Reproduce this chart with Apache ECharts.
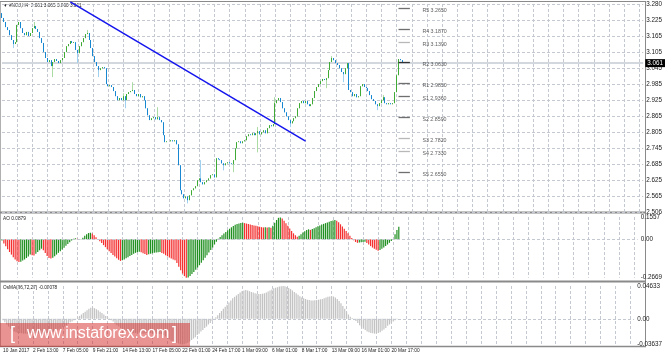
<!DOCTYPE html>
<html><head><meta charset="utf-8">
<script src="https://cdn.jsdelivr.net/npm/echarts@6/dist/echarts.min.js"></script>
<style>html,body{margin:0;padding:0;background:#fff}#c{width:665px;height:357px}</style>
</head><body><div id="c"></div>
<script>
// ---------- data ----------
const dateLabels = ['10 Jan 2017','2 Feb 13:00','7 Feb 05:00','9 Feb 21:00','14 Feb 13:00','17 Feb 05:00','22 Feb 01:00','24 Feb 17:00','1 Mar 09:00','6 Mar 01:00','8 Mar 17:00','13 Mar 09:00','16 Mar 01:00','20 Mar 17:00'];
const priceLabels = ['2.506','2.565','2.625','2.685','2.745','2.805','2.865','2.925','2.985','3.045','3.105','3.165','3.225','3.280'];
const priceMin = 2.506, priceMax = 3.280;
const firstOpen = 3.246;
const closes = [
3.228,3.213,3.194,3.183,3.164,3.146,3.131,3.138,3.202,3.213,
3.190,3.172,3.164,3.176,3.161,3.172,3.190,3.198,3.187,3.176,
3.153,3.135,3.101,3.079,3.064,3.071,3.049,3.064,3.075,3.068,
3.060,3.071,3.079,3.101,3.123,3.131,3.142,3.135,3.138,3.109,
3.097,3.123,3.138,3.153,3.168,3.172,3.146,3.116,3.086,3.064,
3.049,3.034,3.041,3.045,3.041,2.982,2.974,2.978,2.971,2.956,
2.937,2.922,2.930,2.922,2.937,2.922,2.945,2.952,2.956,2.960,
2.945,2.937,2.945,2.933,2.937,2.922,2.892,2.866,2.848,2.855,
2.859,2.851,2.859,2.848,2.840,2.792,2.766,2.769,2.769,2.773,
2.769,2.773,2.758,2.680,2.587,2.572,2.557,2.564,2.550,2.568,
2.587,2.594,2.602,2.624,2.631,2.617,2.609,2.617,2.624,2.631,
2.643,2.646,2.635,2.706,2.702,2.699,2.687,2.680,2.687,2.691,
2.687,2.684,2.699,2.743,2.766,2.769,2.762,2.769,2.773,2.788,
2.795,2.792,2.799,2.792,2.799,2.807,2.795,2.803,2.810,2.799,
2.818,2.829,2.825,2.833,2.911,2.922,2.930,2.915,2.892,2.877,
2.862,2.848,2.836,2.844,2.855,2.862,2.892,2.911,2.919,2.911,
2.919,2.907,2.900,2.907,2.930,2.956,2.971,2.982,2.993,3.001,
2.997,3.004,3.034,3.064,3.079,3.071,3.060,3.053,3.041,3.027,
3.019,3.041,3.060,2.960,2.952,2.937,2.945,2.933,2.937,2.974,
2.982,2.971,2.967,2.956,2.941,2.926,2.919,2.907,2.900,2.911,
2.922,2.933,2.911,2.907,2.911,2.907,2.911,2.952,3.015,3.075,
3.071,3.061];
// [bar index, low, high] of the visible shadows
const wicks = [[6,3.116,3.138],[17,3.190,3.213],[27,3.008,3.064],[40,3.060,3.109],[45,3.168,3.183],[51,3.008,3.049],[64,2.930,2.948],[65,2.892,2.937],[69,2.956,2.989],[82,2.851,2.896],[98,2.538,2.564],[105,2.617,2.699],[117,2.661,2.687],[122,2.654,2.699],[135,2.728,2.822],[144,2.833,2.933],[152,2.822,2.848],[171,2.967,3.004],[174,3.064,3.086],[180,2.989,3.027],[198,2.885,2.907],[201,2.922,2.941]];
const aoValues = [
-0.008,-0.028,-0.048,-0.068,-0.088,-0.106,-0.124,-0.14,-0.152,-0.158,
-0.155,-0.148,-0.14,-0.13,-0.12,-0.105,-0.11,-0.112,
-0.1,-0.088,-0.075,-0.065,
-0.075,-0.095,-0.115,-0.13,-0.134,
-0.128,-0.118,-0.106,-0.094,-0.082,-0.07,-0.058,-0.045,-0.032,-0.02,-0.008,
0.004,0.007,0.004,0.002,0.003,0.012,0.025,0.036,0.044,0.046,0.04,0.028,0.014,0.0,
-0.013,-0.026,-0.04,-0.054,-0.068,-0.082,-0.095,-0.108,-0.12,-0.132,-0.142,-0.15,
-0.146,-0.14,-0.132,-0.124,-0.116,-0.108,-0.1,-0.094,-0.089,-0.086,
-0.09,-0.096,-0.102,-0.108,
-0.104,-0.1,-0.097,-0.094,-0.092,-0.09,-0.088,
-0.095,-0.1,-0.11,-0.118,-0.126,-0.134,-0.14,-0.146,
-0.165,-0.19,-0.215,-0.238,-0.256,-0.27,
-0.266,-0.255,-0.242,-0.228,-0.212,-0.196,-0.18,-0.163,-0.146,-0.128,-0.11,-0.092,-0.074,-0.056,-0.036,-0.016,0.004,
0.016,0.028,0.04,0.052,0.063,0.074,0.084,0.093,0.101,0.107,0.111,0.114,0.115,
0.113,0.11,0.107,0.103,0.1,0.097,0.094,0.091,0.088,0.085,0.083,
0.085,0.082,0.084,0.081,
0.095,0.115,0.135,0.15,0.153,
0.145,0.13,0.112,0.094,0.076,0.058,0.042,0.028,0.018,
0.026,0.036,0.047,0.057,0.065,0.07,
0.066,
0.072,0.078,0.085,0.091,0.097,0.103,0.108,0.113,0.118,0.123,0.128,0.132,0.134,
0.13,0.12,0.105,0.09,0.074,0.058,0.042,0.026,0.01,
-0.006,-0.018,-0.024,
-0.022,-0.02,-0.018,-0.017,
-0.025,-0.036,-0.047,-0.057,-0.066,-0.073,-0.079,
-0.074,-0.066,-0.057,-0.047,-0.036,-0.024,-0.012,-0.001,
0.035,0.065,0.0879];
const osmaValues = [
-0.002,-0.005,-0.008,-0.011,-0.014,-0.016,-0.018,-0.019,-0.02,
-0.02,-0.0205,-0.021,-0.021,-0.021,-0.0205,-0.02,-0.02,-0.02,-0.0205,-0.021,-0.021,-0.021,-0.0205,-0.02,-0.02,-0.0195,
-0.019,-0.018,-0.017,-0.016,-0.015,-0.014,-0.012,-0.011,-0.009,-0.007,-0.005,-0.004,-0.002,-0.0005,
0.002,0.004,0.006,0.008,0.01,0.012,0.014,0.0155,0.0156,0.015,0.0135,0.012,0.01,0.008,0.006,0.004,0.002,0.0005,
-0.002,-0.004,-0.007,-0.009,-0.011,-0.013,-0.015,-0.016,-0.017,-0.018,-0.019,-0.0195,-0.02,-0.02,
-0.02,-0.0205,-0.021,-0.021,-0.0205,-0.02,-0.02,-0.02,-0.0205,-0.021,-0.021,-0.021,-0.0215,-0.022,
-0.023,-0.025,-0.027,-0.029,-0.031,-0.032,-0.033,-0.034,-0.035,-0.036,-0.0364,-0.036,-0.035,
-0.034,-0.032,-0.03,-0.028,-0.026,-0.023,-0.021,-0.018,-0.016,-0.013,-0.011,-0.008,-0.006,-0.003,-0.001,
0.002,0.005,0.008,0.011,0.014,0.017,0.02,0.023,0.026,0.029,0.031,0.033,0.035,0.037,0.039,
0.04,0.0405,0.04,0.039,0.038,0.037,0.036,0.0355,0.035,0.035,
0.0355,0.036,0.037,0.0385,0.04,0.0415,0.043,0.044,0.0447,0.0455,0.046,0.0463,
0.046,0.045,0.0435,0.042,0.04,0.038,0.036,0.034,0.032,0.03,0.029,0.028,0.027,
0.0265,0.026,0.026,0.0262,0.0265,0.027,0.0275,0.028,0.029,0.03,0.031,0.0315,0.0318,0.0315,
0.03,0.028,0.025,0.022,0.018,0.014,0.01,0.006,0.003,0.001,
-0.001,-0.003,-0.006,-0.009,-0.012,-0.014,-0.016,-0.018,-0.019,-0.02,-0.0205,-0.021,
-0.0205,-0.02,-0.019,-0.017,-0.015,-0.013,-0.01,-0.008,-0.006,-0.004,-0.002,-0.00078];
const aoAxis = [-0.2669, 0, 0.1557];
const aoAxisLabels = ['-0.2669','0.00','0.1557'];
const osmaAxis = [-0.03637, 0, 0.04633];
const osmaAxisLabels = ['-0.03637','0.00','0.04633'];
const pivotNames = ['R5','R4','R3','R2','R1','S1','S2','S3','S4','S5'];
const pivotValues = [3.2650,3.1870,3.1390,3.0630,2.9850,2.9360,2.8590,2.7820,2.7330,2.6550];
const pivotLight = [false,false,true,false,false,false,false,true,true,false];
const trendLine = [[36,3.288],[160,2.770]];
const bidPrice = 3.061;
const titleText = '\u25BC #NGJ,H4  3.061 3.065 3.060 3.061';
const aoTitle = 'AO 0.0879';
const osmaTitle = 'OsMA(36,72,27) -0.00078';
const SLOTS = 339;

// ---------- build ----------
const slots = Array.from({length: SLOTS}, (_, i) => String(i));
const wickMap = {};
wicks.forEach(w => wickMap[w[0]] = w);
const fullCandles = [], bodyCandles = [];
closes.forEach((c, i) => {
  const o = i === 0 ? firstOpen : closes[i - 1];
  const w = wickMap[i];
  const lo = Math.min(o, c, w ? w[1] : Infinity);
  const hi = Math.max(o, c, w ? w[2] : -Infinity);
  fullCandles.push([o, c, lo, hi]);
  bodyCandles.push([o, c, Math.min(o, c), Math.max(o, c)]);
});
const aoData = aoValues.map((v, i) => ({
  value: v,
  itemStyle: {color: (i === 0 || v > aoValues[i - 1]) ? '#1f8f1f' : '#f43030'}
}));

const FONT = 'Liberation Sans';
const gridDash = {color: '#c4c8d0', type: [3, 2], width: 1};
const vSplit = {show: true, interval: (i) => i > 0 && i % 8 === 0, lineStyle: gridDash};
function xAx(g, labels) {
  return {
    type: 'category', gridIndex: g, data: slots, boundaryGap: false,
    axisLine: {show: false}, axisTick: {show: false},
    splitLine: vSplit,
    axisLabel: labels ? {
      show: true, showMinLabel: true, hideOverlap: false,
      interval: (i) => i % 16 === 0 && i / 16 < dateLabels.length,
      formatter: (v, i) => dateLabels[Math.round(Number(v) / 16)] || '',
      align: 'left', fontSize: 4.8, color: '#222', margin: 4, fontFamily: FONT
    } : {show: false}
  };
}
const lblStyle = {fontSize: 6.3, color: '#222', margin: 3, fontFamily: FONT};

const chart = echarts.init(document.getElementById('c'), null, {renderer: 'canvas'});
chart.setOption({
  animation: false,
  backgroundColor: '#fff',
  grid: [
    {left: 2, right: 20, top: 4, height: 208},
    {left: 2, right: 20, top: 217, height: 60.7},
    {left: 2, right: 20, top: 286, height: 58.5}
  ],
  xAxis: [xAx(0, false), xAx(1, false), xAx(2, true)],
  yAxis: [
    {type: 'value', gridIndex: 0, min: priceMin, max: priceMax, show: false, splitLine: {show: false}},
    {type: 'value', gridIndex: 0, min: 0, max: priceLabels.length - 1, interval: 1, position: 'right',
     axisLine: {show: false}, axisTick: {show: false},
     splitLine: {show: true, lineStyle: gridDash},
     axisLabel: Object.assign({formatter: (v) => priceLabels[Math.round(v)] || ''}, lblStyle)},
    {type: 'value', gridIndex: 1, min: aoAxis[0], max: aoAxis[2], position: 'right',
     axisLine: {show: false}, axisTick: {show: false}, splitLine: {show: false},
     axisLabel: Object.assign({customValues: aoAxis,
       formatter: (v) => aoAxisLabels[aoAxis.findIndex(a => Math.abs(a - v) < 1e-6)] || ''}, lblStyle)},
    {type: 'value', gridIndex: 2, min: osmaAxis[0], max: osmaAxis[2], position: 'right',
     axisLine: {show: false}, axisTick: {show: false}, splitLine: {show: false},
     axisLabel: Object.assign({customValues: osmaAxis,
       formatter: (v) => osmaAxisLabels[osmaAxis.findIndex(a => Math.abs(a - v) < 1e-7)] || ''}, lblStyle)}
  ],
  series: [
    {
      name: 'shadow', type: 'candlestick', xAxisIndex: 0, yAxisIndex: 0, data: fullCandles,
      barWidth: 1, z: 2,
      itemStyle: {color: '#a9dba3', color0: '#9fd0f0', borderColor: '#a9dba3', borderColor0: '#9fd0f0', borderWidth: 1},
      markLine: {
        silent: true, symbol: 'none', z: 1, animation: false,
        data: [{yAxis: bidPrice, lineStyle: {color: '#d3d8de', width: 2, type: 'solid'},
          label: {show: true, position: 'end', distance: 2, formatter: bidPrice.toFixed(3),
            backgroundColor: '#000', color: '#fff', fontSize: 6.3, padding: [1, 2], fontFamily: FONT}}]
      }
    },
    {
      name: 'body', type: 'candlestick', xAxisIndex: 0, yAxisIndex: 0, data: bodyCandles,
      barWidth: 1, z: 3,
      itemStyle: {color: '#3faa36', color0: '#1787d2', borderColor: '#3faa36', borderColor0: '#1787d2', borderWidth: 1}
    },
    {
      name: 'trend', type: 'line', xAxisIndex: 0, yAxisIndex: 0, data: trendLine,
      showSymbol: false, clip: false, z: 4,
      lineStyle: {color: '#1515ee', width: 1.5},
      markLine: {
        silent: true, symbol: 'none', animation: false, label: {show: false},
        data: pivotValues.map((v, k) => [
          {coord: [209, v], lineStyle: {color: pivotLight[k] ? '#b8b8b8' : (k === 3 ? '#333' : '#6f6f6f'), width: 1.3, type: 'solid'}},
          {coord: [215, v]}
        ])
      }
    },
    {
      name: 'pivotLabels', type: 'scatter', xAxisIndex: 0, yAxisIndex: 0, symbolSize: 0, z: 5,
      data: pivotValues.map(v => [220, v]),
      label: {show: true, position: 'right', distance: 3, offset: [0, 2.5],
        formatter: (p) => pivotNames[p.dataIndex] + ' ' + pivotValues[p.dataIndex].toFixed(4),
        fontSize: 5.3, color: '#333', fontFamily: FONT}
    },
    {
      name: 'AO', type: 'bar', xAxisIndex: 1, yAxisIndex: 2, data: aoData, barWidth: 1.2,
      markLine: {silent: true, symbol: 'none', animation: false, label: {show: false},
        lineStyle: gridDash, data: [{yAxis: 0}]}
    },
    {
      name: 'OsMA', type: 'bar', xAxisIndex: 2, yAxisIndex: 3, data: osmaValues, barWidth: 1.2,
      itemStyle: {color: '#c3c3c3'},
      markLine: {silent: true, symbol: 'none', animation: false, label: {show: false},
        lineStyle: gridDash, data: [{yAxis: 0}]}
    }
  ],
  graphic: [
    {type: 'line', shape: {x1: 0.5, y1: 1, x2: 0.5, y2: 346}, style: {stroke: '#b0b0b0', lineWidth: 1}, silent: true},
    {type: 'line', shape: {x1: 0, y1: 1.5, x2: 646, y2: 1.5}, style: {stroke: '#8a8a8a', lineWidth: 1}, silent: true},
    {type: 'line', shape: {x1: 645.5, y1: 1, x2: 645.5, y2: 347}, style: {stroke: '#8a8a8a', lineWidth: 1}, silent: true},
    {type: 'line', shape: {x1: 0, y1: 212.5, x2: 646, y2: 212.5}, style: {stroke: '#8a8a8a', lineWidth: 2}, silent: true},
    {type: 'line', shape: {x1: 0, y1: 281.5, x2: 646, y2: 281.5}, style: {stroke: '#8a8a8a', lineWidth: 2}, silent: true},
    {type: 'line', shape: {x1: 0, y1: 346.5, x2: 646, y2: 346.5}, style: {stroke: '#8a8a8a', lineWidth: 1.5}, silent: true},
    {type: 'text', left: 3, top: 3, style: {text: titleText, fontSize: 4.7, fill: '#222', fontFamily: FONT}, silent: true},
    {type: 'text', left: 3, top: 216, style: {text: aoTitle, fontSize: 4.8, fill: '#222', fontFamily: FONT}, silent: true},
    {type: 'text', left: 3, top: 285, style: {text: osmaTitle, fontSize: 4.7, fill: '#222', fontFamily: FONT}, silent: true},
    {type: 'rect', shape: {x: 0, y: 323, width: 190, height: 24}, style: {fill: 'rgba(214,40,40,0.5)'}, silent: true, z: 100},
    {type: 'text', x: 10, y: 325, style: {text: '[', fontSize: 18, fill: '#fff', fontFamily: FONT}, silent: true, z: 101},
    {type: 'text', x: 27, y: 326, style: {text: 'www.instaforex.com', fontSize: 16, fill: '#fff', fontFamily: FONT}, silent: true, z: 101},
    {type: 'text', x: 172, y: 325, style: {text: ']', fontSize: 18, fill: '#fff', fontFamily: FONT}, silent: true, z: 101}
  ]
});
</script></body></html>
